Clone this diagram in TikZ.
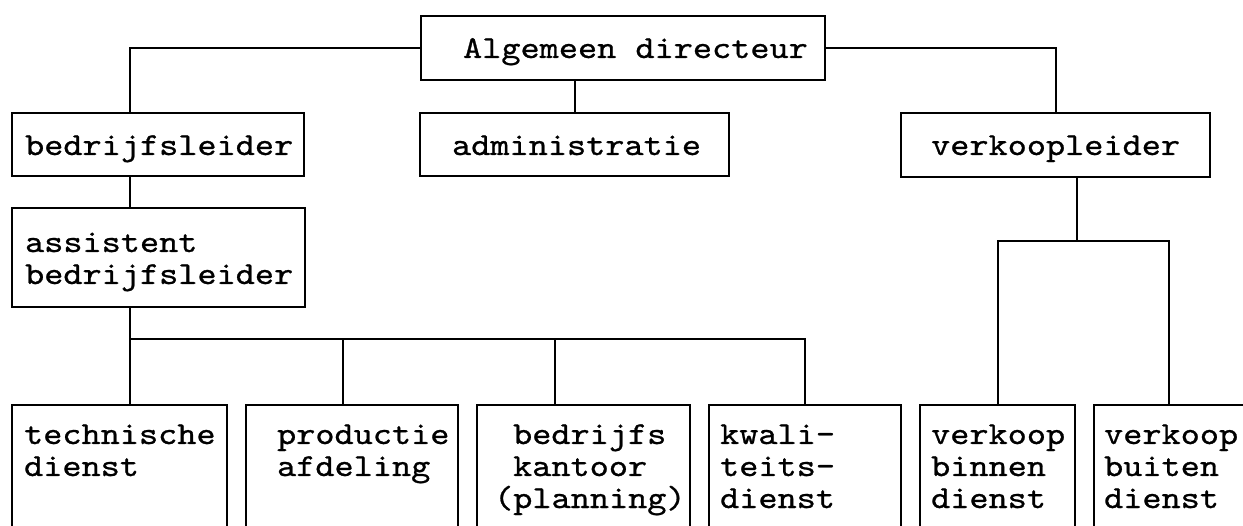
\documentclass[tikz,border=0pt]{standalone}
\usepackage{fontspec}
\newfontfamily\typewriter{lmmono10-regular.otf}[FakeStretch=1.14,FakeBold=0.8]
\begin{document}
\begin{tikzpicture}[x=1pt,y=-1pt,
  line width=2.2pt,
  unit/.style={draw, rectangle, inner sep=0pt},
  lab/.style={anchor=base west, inner sep=0pt, font=\typewriter\fontsize{32}{32}\selectfont},
  wire/.style={line width=2pt}]
\useasboundingbox (0,0) rectangle (1243,526);
\clip (0,0) rectangle (1243,526);

% boxes (centre, width, height)
\node[unit, minimum width=404pt, minimum height=64pt] (top) at (623,48) {};
\node[unit, minimum width=292pt, minimum height=63pt] (bl)  at (158,144.5) {};
\node[unit, minimum width=309pt, minimum height=63pt] (adm) at (574.5,144.5) {};
\node[unit, minimum width=309pt, minimum height=64pt] (vl)  at (1055.5,145) {};
\node[unit, minimum width=293pt, minimum height=99pt] (abl) at (158.5,257.5) {};
\node[unit, minimum width=215pt, minimum height=195pt] (td)  at (119.5,502.5) {};
\node[unit, minimum width=212pt, minimum height=195pt] (pa)  at (352,502.5) {};
\node[unit, minimum width=213pt, minimum height=195pt] (bk)  at (583.5,502.5) {};
\node[unit, minimum width=192pt, minimum height=195pt] (kd)  at (805,502.5) {};
\node[unit, minimum width=155pt, minimum height=195pt] (vb)  at (997.5,502.5) {};
\node[unit, minimum width=166pt, minimum height=195pt] (vbu) at (1177,502.5) {};

% texts
\node[lab] (t-top) at (462,58) {Algemeen directeur};
\node[lab] (t-bl)  at (24,155) {bedrijfsleider};
\node[lab] (t-adm) at (451,155) {administratie};
\node[lab] (t-vl)  at (930,155) {verkoopleider};
\foreach \t [count=\i] in {assistent,bedrijfsleider}
  \node[lab] (t-abl-\i) at (24,{252+32*(\i-1)}) {\t};
\foreach \t [count=\i] in {technische,dienst}
  \node[lab] (t-td-\i) at (23,{444+32*(\i-1)}) {\t};
\foreach \t [count=\i] in {productie,afdeling}
  \node[lab] (t-pa-\i) at (276,{444+32*(\i-1)}) {\t};
\node[lab] (t-bk-1) at (512,444) {bedrijfs};
\node[lab] (t-bk-2) at (512,476) {kantoor};
\node[lab] (t-bk-3) at (493,508) {(planning)};
\foreach \t [count=\i] in {kwali-,teits-,dienst}
  \node[lab] (t-kd-\i) at (719,{444+32*(\i-1)}) {\t};
\foreach \t [count=\i] in {verkoop,binnen,dienst}
  \node[lab] (t-vb-\i) at (930,{444+32*(\i-1)}) {\t};
\foreach \t [count=\i] in {verkoop,buiten,dienst}
  \node[lab] (t-vbu-\i) at (1103,{444+32*(\i-1)}) {\t};

% stems and buses
\coordinate (lx)   at (130,0);
\coordinate (bus)  at (0,339);
\coordinate (pax)  at (343,339);
\coordinate (bkx)  at (555,339);
\coordinate (vlx)  at (1077,241);
\coordinate (vbux) at (1169,241);

\draw[wire] (top.west) -| (bl.north -| lx);
\draw[wire] (top.east) -| (vl.north);
\draw[wire] (adm.north |- top.south) -- (adm.north);
\draw[wire] (bl.south -| lx) -- (abl.north -| lx);
\draw[wire] (abl.south -| lx) -- (td.north -| lx);
\draw[wire] (lx |- bus) -- (kd.north |- bus) -- (kd.north);
\draw[wire] (pax) -- (pa.north -| pax);
\draw[wire] (bkx) -- (bk.north -| bkx);
\draw[wire] (vl.south -| vlx) -- (vlx);
\draw[wire] (vb.north) -- (vb.north |- vlx) -- (vbux) -- (vbu.north -| vbux);
\end{tikzpicture}
\end{document}
